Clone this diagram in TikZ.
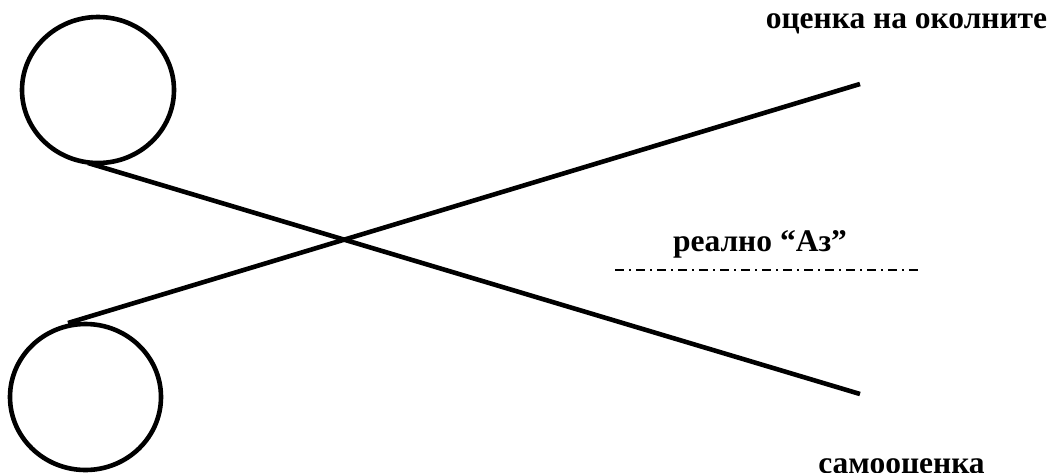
\documentclass[tikz,border=0pt]{standalone}
\usepackage{fontspec}
\setmainfont{Liberation Serif}
\begin{document}
\begin{tikzpicture}[x=1pt,y=-1pt,
  ring/.style={line width=4.6pt},
  blade/.style={line width=4.6pt},
  lbl/.style={font=\fontsize{31.5}{36}\selectfont\bfseries,inner sep=0pt},
  dashdot line/.style={line width=1.8pt,dash pattern=on 9pt off 5pt on 2pt off 5pt}]
\useasboundingbox (0,0) rectangle (1054,472);
\clip (0,0) rectangle (1054,472);
\draw[ring] (98,90) ellipse [x radius=76pt, y radius=73pt];
\draw[ring] (85.5,397) ellipse [x radius=75.5pt, y radius=73pt];
\coordinate (a1) at (88,163);
\coordinate (a2) at (860,394);
\coordinate (b1) at (68,323);
\coordinate (b2) at (860,84);
\draw[blade] (a1) -- (a2);
\draw[blade] (b1) -- (b2);
\node[lbl,anchor=base] (top) at (906.5,28) {оценка на околните};
\node[lbl,anchor=base] (real) at (760,251) {реално “Аз”};
\node[lbl,anchor=base] (self) at (901.5,473) {самооценка};
\coordinate (d1) at (615,270);
\coordinate (d2) at (922,270);
\draw[dashdot line] (d1) -- (d2);
\end{tikzpicture}
\end{document}
